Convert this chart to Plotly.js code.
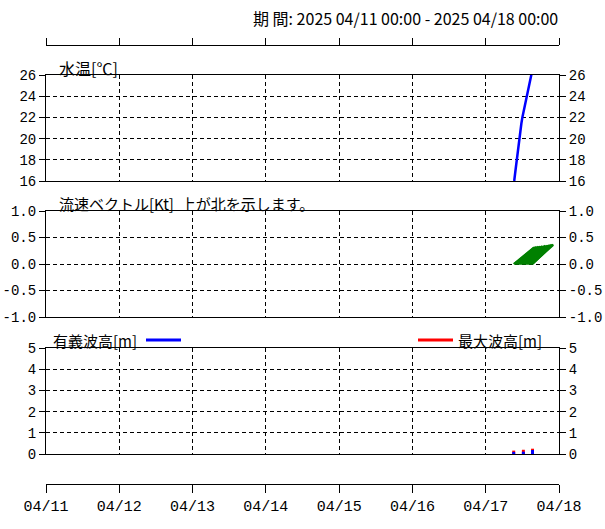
<!DOCTYPE html>
<html>
<head>
<meta charset="utf-8">
<script src="https://cdn.plot.ly/plotly-3.0.1.min.js"></script>
<style>html,body{margin:0;padding:0;background:#fff;}#chart{width:605px;height:529px;}</style>
</head>
<body>
<div id="chart"></div>
<script>
// ---------------- DATA ----------------
const periodStart = '2025-04-11 00:00';
const periodEnd = '2025-04-18 00:00';

// Water temperature [°C]
const tempTimes = ['2025-04-17 09:10','2025-04-17 09:20','2025-04-17 09:40','2025-04-17 10:00','2025-04-17 10:20',
  '2025-04-17 10:40','2025-04-17 11:00','2025-04-17 11:20','2025-04-17 11:40','2025-04-17 12:00','2025-04-17 12:20',
  '2025-04-17 12:40','2025-04-17 13:00','2025-04-17 13:20','2025-04-17 13:40','2025-04-17 14:00','2025-04-17 14:20',
  '2025-04-17 14:40','2025-04-17 15:00','2025-04-17 15:20'];
const tempValues = [15.8,16.0,16.8,17.6,18.5,19.4,20.2,20.8,21.4,22.0,22.5,23.0,23.5,24.0,24.5,24.9,25.3,25.7,26.1,26.4];

// Current vectors [kt]  (u: east component, v: north component)
const curTimes = ['2025-04-17 09:10','2025-04-17 09:20','2025-04-17 09:30','2025-04-17 09:40','2025-04-17 09:50',
  '2025-04-17 10:00','2025-04-17 10:10','2025-04-17 10:20','2025-04-17 10:30','2025-04-17 10:40','2025-04-17 10:50',
  '2025-04-17 11:00','2025-04-17 11:10','2025-04-17 11:20','2025-04-17 11:30','2025-04-17 11:40','2025-04-17 11:50',
  '2025-04-17 12:00','2025-04-17 12:10','2025-04-17 12:20','2025-04-17 12:30','2025-04-17 12:40','2025-04-17 12:50',
  '2025-04-17 13:00','2025-04-17 13:10','2025-04-17 13:20','2025-04-17 13:30','2025-04-17 13:40','2025-04-17 13:50',
  '2025-04-17 14:00','2025-04-17 14:10','2025-04-17 14:20','2025-04-17 14:30','2025-04-17 14:40','2025-04-17 14:50',
  '2025-04-17 15:00','2025-04-17 15:10','2025-04-17 15:20'];
const curU = [0.38,0.39,0.38,0.39,0.39,0.38,0.39,0.39,0.38,0.39,0.40,0.39,0.38,0.39,0.39,0.40,0.39,0.38,0.39,
  0.39,0.40,0.39,0.39,0.38,0.39,0.40,0.39,0.39,0.38,0.39,0.39,0.40,0.39,0.38,0.39,0.39,0.40,0.39];
const curV = [0.31,0.31,0.32,0.31,0.32,0.32,0.31,0.32,0.33,0.32,0.32,0.33,0.33,0.32,0.33,0.33,0.34,0.33,0.33,
  0.34,0.34,0.33,0.34,0.35,0.34,0.34,0.35,0.35,0.34,0.35,0.36,0.35,0.35,0.36,0.37,0.36,0.36,0.37];

// Wave heights [m]
const waveTimes = ['2025-04-17 09:10','2025-04-17 12:20','2025-04-17 15:20'];
const waveSig = [0.10,0.11,0.19];
const waveMax = [0.16,0.20,0.25];

// Tick labels
const tempTicks = [16,18,20,22,24,26];
const curTicks = [-1.0,-0.5,0.0,0.5,1.0];
const curTickText = ['-1.0','-0.5','0.0','0.5','1.0'];
const waveTicks = [0,1,2,3,4,5];

// ---------------- HELPERS / STYLE ----------------
function toMs(s){
  const m = s.match(/(\d+)-(\d+)-(\d+) (\d+):(\d+)/);
  return Date.UTC(+m[1], +m[2]-1, +m[3], +m[4], +m[5]);
}
const DAY = 86400000;
const W = 605, H = 529;
const fx = p => p / W;
const fy = p => 1 - p / H;
// horizontal extent of a 1 kt east vector (same pixel scale as the y axis)
const VEC_MS_PER_KT = (53 / 73.29) * DAY;
const BAR_W = 3.5e6;

const tickFont = {family: 'Liberation Mono, DejaVu Sans Mono, monospace', size: 14, color: '#000'};
const jpFont = {family: 'Noto Sans CJK JP, sans-serif', size: 16, color: '#000'};
const GRID_DASH = '4px,3px';
const xDomain = [fx(46), fx(559)];

// vector segments
const vecX = [], vecY = [];
curTimes.forEach((t, i) => {
  const t0 = toMs(t);
  vecX.push(t0, t0 + curU[i] * VEC_MS_PER_KT, null);
  vecY.push(0, curV[i], null);
});

const traces = [
  {x: tempTimes.map(toMs), y: tempValues, xaxis: 'x', yaxis: 'y', type: 'scatter', mode: 'lines',
   line: {color: '#0000ff', width: 2.5}, hoverinfo: 'skip'},
  {x: vecX, y: vecY, xaxis: 'x2', yaxis: 'y2', type: 'scatter', mode: 'lines',
   line: {color: '#008000', width: 2}, connectgaps: false, hoverinfo: 'skip'},
  {x: waveTimes.map(toMs), y: waveMax, xaxis: 'x3', yaxis: 'y3', type: 'bar', width: BAR_W,
   marker: {color: '#ff0000', line: {width: 0}}, hoverinfo: 'skip'},
  {x: waveTimes.map(toMs), y: waveSig, xaxis: 'x3', yaxis: 'y3', type: 'bar', width: BAR_W,
   marker: {color: '#0000ff', line: {width: 0}}, hoverinfo: 'skip'},
  // carriers for the right-hand and outer axes
  {x: [], y: [], xaxis: 'x', yaxis: 'y4', type: 'scatter'},
  {x: [], y: [], xaxis: 'x2', yaxis: 'y5', type: 'scatter'},
  {x: [], y: [], xaxis: 'x3', yaxis: 'y6', type: 'scatter'},
  {x: [], y: [], xaxis: 'x4', yaxis: 'y', type: 'scatter'},
  {x: [], y: [], xaxis: 'x5', yaxis: 'y3', type: 'scatter'}
];

const range = [toMs(periodStart), toMs(periodEnd)];

function panelX(anchor){
  return {type: 'date', range: range, domain: xDomain, anchor: anchor,
    showline: true, mirror: true, linecolor: '#000', linewidth: 1,
    showgrid: true, gridcolor: '#000', gridwidth: 1, griddash: GRID_DASH,
    ticks: '', showticklabels: false, tick0: range[0], dtick: DAY, zeroline: false, fixedrange: true};
}
function panelY(anchor, dom, r, vals, text){
  return {domain: dom, range: r, anchor: anchor, tickmode: 'array', tickvals: vals, ticktext: text,
    ticks: 'outside', ticklen: 6, tickcolor: '#000', tickwidth: 1,
    showline: true, mirror: true, linecolor: '#000', linewidth: 1,
    showgrid: true, gridcolor: '#000', gridwidth: 1, griddash: GRID_DASH,
    zeroline: false, tickfont: tickFont, fixedrange: true};
}
function rightY(over, anchor, r, vals, text){
  return {overlaying: over, side: 'right', anchor: anchor, range: r, tickmode: 'array', tickvals: vals, ticktext: text,
    ticks: 'outside', ticklen: 6, tickcolor: '#000', tickwidth: 1, showline: false, showgrid: false,
    zeroline: false, tickfont: tickFont, fixedrange: true};
}

const d1 = [fy(181), fy(75)], d2 = [fy(317), fy(211)], d3 = [fy(454), fy(348)];

const layout = {
  width: W, height: H, margin: {l: 0, r: 0, t: 0, b: 0},
  paper_bgcolor: '#fff', plot_bgcolor: '#fff', showlegend: false, barmode: 'overlay',
  xaxis: panelX('y'), xaxis2: panelX('y2'), xaxis3: panelX('y3'),
  xaxis4: {type: 'date', range: range, overlaying: 'x', side: 'top', anchor: 'free', position: fy(45),
    showline: true, linecolor: '#000', linewidth: 1, ticks: 'outside', ticklen: 7, tickcolor: '#000',
    showticklabels: false, showgrid: false, zeroline: false, tick0: range[0], dtick: DAY, fixedrange: true},
  xaxis5: {type: 'date', range: range, overlaying: 'x3', side: 'bottom', anchor: 'free', position: fy(484),
    showline: true, linecolor: '#000', linewidth: 1, ticks: 'outside', ticklen: 8, tickcolor: '#000',
    showticklabels: true, tickformat: '%m/%d', tickfont: Object.assign({}, tickFont, {size: 15}),
    showgrid: false, zeroline: false, tick0: range[0], dtick: DAY, fixedrange: true},
  yaxis: panelY('x', d1, [16, 26], tempTicks, tempTicks.map(String)),
  yaxis2: panelY('x2', d2, [-1, 1], curTicks, curTickText),
  yaxis3: panelY('x3', d3, [0, 5], waveTicks, waveTicks.map(String)),
  yaxis4: rightY('y', 'x', [16, 26], tempTicks, tempTicks.map(String)),
  yaxis5: rightY('y2', 'x2', [-1, 1], curTicks, curTickText),
  yaxis6: rightY('y3', 'x3', [0, 5], waveTicks, waveTicks.map(String)),
  annotations: [
    {xref: 'paper', yref: 'paper', x: fx(559), y: fy(18), xanchor: 'right', yanchor: 'middle',
     text: '期 間: 2025 04/11 00:00 - 2025 04/18 00:00', showarrow: false, font: jpFont, borderpad: 0},
    {xref: 'paper', yref: 'paper', x: fx(58), y: fy(68), xanchor: 'left', yanchor: 'middle',
     text: '水温[℃]', showarrow: false, font: jpFont, borderpad: 0},
    {xref: 'paper', yref: 'paper', x: fx(58), y: fy(203), xanchor: 'left', yanchor: 'middle',
     text: '流速ベクトル[Kt]\u00a0\u00a0上が北を示します。', showarrow: false, font: Object.assign({}, jpFont, {size: 15}), borderpad: 0},
    {xref: 'paper', yref: 'paper', x: fx(52), y: fy(340), xanchor: 'left', yanchor: 'middle',
     text: '有義波高[m]', showarrow: false, font: Object.assign({}, jpFont, {size: 15}), borderpad: 0},
    {xref: 'paper', yref: 'paper', x: fx(543), y: fy(340), xanchor: 'right', yanchor: 'middle',
     text: '最大波高[m]', showarrow: false, font: Object.assign({}, jpFont, {size: 15}), borderpad: 0}
  ],
  shapes: [
    {type: 'line', xref: 'paper', yref: 'paper', x0: fx(146), x1: fx(181), y0: fy(340), y1: fy(340),
     line: {color: '#0000ff', width: 3}},
    {type: 'line', xref: 'paper', yref: 'paper', x0: fx(418), x1: fx(453), y0: fy(340), y1: fy(340),
     line: {color: '#ff0000', width: 3}}
  ]
};

Plotly.newPlot('chart', traces, layout, {staticPlot: true, displayModeBar: false});
</script>
</body>
</html>
